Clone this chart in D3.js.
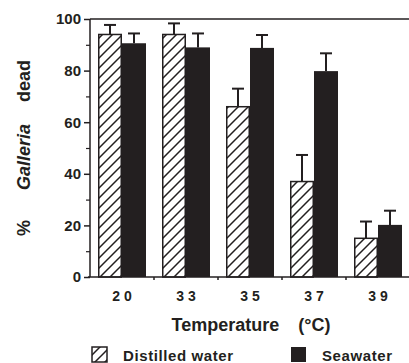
<!DOCTYPE html>
<html>
<head>
<meta charset="utf-8">
<script src="https://cdn.jsdelivr.net/npm/d3@7"></script>
<style>
  body { margin: 0; background: #fff; }
  text { font-family: "Liberation Sans", Arial, sans-serif; font-weight: bold; fill: #231f20; }
</style>
</head>
<body>
<div id="chart"></div>
<script>
// data
const temps = ["20", "33", "35", "37", "39"];
const seriesNames = ["Distilled water", "Seawater"];
const distilled = [94, 94, 66, 37, 15];
const distilledErr = [3.7, 4.3, 7, 10.3, 6.5];
const seawater = [90.6, 89, 88.8, 79.8, 20.2];
const seawaterErr = [3.8, 5.4, 5, 6.9, 5.5];
const yTicks = [0, 20, 40, 60, 80, 100];

const svgWidth = 409;
const svgHeight = 363;
const ink = "#231f20";

const margin = { top: 19, right: -1, bottom: 86, left: 90 };
const width = svgWidth - margin.left - margin.right;
const height = svgHeight - margin.top - margin.bottom;

const svg = d3.select("#chart")
    .append("svg")
    .attr("width", svgWidth)
    .attr("height", svgHeight);

const defs = svg.append("defs");
defs.append("pattern")
    .attr("id", "hatch")
    .attr("patternUnits", "userSpaceOnUse")
    .attr("width", 10)
    .attr("height", 10)
  .append("path")
    .attr("d", "M-2,2 L2,-2 M0,10 L10,0 M8,12 L12,8")
    .attr("stroke", ink)
    .attr("stroke-width", 1.5);

const chartGroup = svg.append("g")
    .attr("transform", `translate(${margin.left}, ${margin.top})`);

const x0 = d3.scaleBand()
    .domain(temps)
    .range([0, width])
    .paddingInner(0.25)
    .paddingOuter(0.125);

const x1 = d3.scaleBand()
    .domain(seriesNames)
    .range([0, x0.bandwidth()]);

const y = d3.scaleLinear()
    .domain([0, 100])
    .range([height, 0]);

const rows = temps.map((t, i) => ({
    temp: t,
    bars: [
        { name: seriesNames[0], value: distilled[i], err: distilledErr[i] },
        { name: seriesNames[1], value: seawater[i], err: seawaterErr[i] }
    ]
}));

// top frame line
chartGroup.append("line")
    .attr("x1", 0).attr("x2", width)
    .attr("y1", 0).attr("y2", 0)
    .attr("stroke", ink)
    .attr("stroke-width", 1.5);

// minor y ticks
chartGroup.append("g")
    .call(d3.axisLeft(y).tickValues(d3.range(10, 100, 20)).tickSize(4).tickFormat(""))
    .call(g => g.select(".domain").remove())
    .selectAll("line").attr("stroke", ink).attr("stroke-width", 1.2);

const yAxis = chartGroup.append("g")
    .call(d3.axisLeft(y).tickValues(yTicks).tickSize(6).tickPadding(3));
yAxis.select(".domain").attr("stroke", ink).attr("stroke-width", 1.5)
    .attr("d", `M0,${height}V0`);
yAxis.selectAll("line").attr("stroke", ink).attr("stroke-width", 1.5);
yAxis.selectAll("text")
    .style("font-size", "15px")
    .style("font-weight", "bold")
    .attr("fill", ink);

// bottom axis with ticks at group boundaries
const bounds = temps.slice(1).map(t => x0(t) - x0.step() * 0.125);
const xAxis = chartGroup.append("g")
    .attr("transform", `translate(0, ${height})`);
xAxis.append("line")
    .attr("x1", -2).attr("x2", width)
    .attr("stroke", ink).attr("stroke-width", 1.5);
xAxis.selectAll(".bt")
    .data(bounds)
    .enter()
    .append("line")
    .attr("x1", d => d).attr("x2", d => d)
    .attr("y1", 0).attr("y2", 3)
    .attr("stroke", ink).attr("stroke-width", 1.5);
xAxis.selectAll(".lbl")
    .data(temps)
    .enter()
    .append("text")
    .attr("x", d => x0(d) + x0.bandwidth() / 2 + 2)
    .attr("y", 24)
    .attr("text-anchor", "middle")
    .style("font-size", "14px")
    .style("letter-spacing", "4px")
    .text(d => d);

const groups = chartGroup.selectAll(".grp")
    .data(rows)
    .enter()
    .append("g")
    .attr("transform", d => `translate(${x0(d.temp)}, 0)`);

const bar = groups.selectAll(".bar")
    .data(d => d.bars)
    .enter()
    .append("g");

// error bars
bar.append("line")
    .attr("x1", d => x1(d.name) + x1.bandwidth() / 2)
    .attr("x2", d => x1(d.name) + x1.bandwidth() / 2)
    .attr("y1", d => y(d.value))
    .attr("y2", d => y(d.value + d.err))
    .attr("stroke", ink).attr("stroke-width", 2);
bar.append("line")
    .attr("x1", d => x1(d.name) + x1.bandwidth() / 2 - 6)
    .attr("x2", d => x1(d.name) + x1.bandwidth() / 2 + 6)
    .attr("y1", d => y(d.value + d.err))
    .attr("y2", d => y(d.value + d.err))
    .attr("stroke", ink).attr("stroke-width", 2);

bar.append("rect")
    .attr("x", d => x1(d.name) + (d.name === seriesNames[0] ? 0.75 : 0))
    .attr("y", d => y(d.value))
    .attr("width", d => x1.bandwidth() - (d.name === seriesNames[0] ? 1.5 : 0))
    .attr("height", d => height - y(d.value))
    .attr("fill", d => d.name === seriesNames[0] ? "url(#hatch)" : ink)
    .attr("stroke", d => d.name === seriesNames[0] ? ink : "none")
    .attr("stroke-width", 1.5);

// axis titles
const yTitle = svg.append("text")
    .attr("transform", `translate(30, ${margin.top + height / 2}) rotate(-90)`)
    .attr("text-anchor", "middle")
    .style("font-size", "18px");
yTitle.append("tspan").text("%");
yTitle.append("tspan").attr("dx", 30).style("font-style", "italic").text("Galleria");
yTitle.append("tspan").attr("dx", 22).text("dead");

svg.append("text")
    .attr("x", 251)
    .attr("y", 331)
    .attr("text-anchor", "middle")
    .style("font-size", "18px")
    .style("word-spacing", "14px")
    .text("Temperature (°C)");

// legend
const legend = svg.append("g").attr("transform", "translate(0, 347)");
const legendItems = [
    { name: seriesNames[0], x: 92, fill: "url(#hatch)", stroke: ink },
    { name: seriesNames[1], x: 291, fill: ink, stroke: "none" }
];
legendItems.forEach(item => {
    legend.append("rect")
        .attr("x", item.x).attr("y", 0)
        .attr("width", 15).attr("height", 15)
        .attr("fill", item.fill)
        .attr("stroke", item.stroke)
        .attr("stroke-width", 1.5);
    legend.append("text")
        .attr("x", item.x + 31)
        .attr("y", 14)
        .style("font-size", "15px")
        .style("letter-spacing", "0.6px")
        .text(item.name);
});
</script>
</body>
</html>
